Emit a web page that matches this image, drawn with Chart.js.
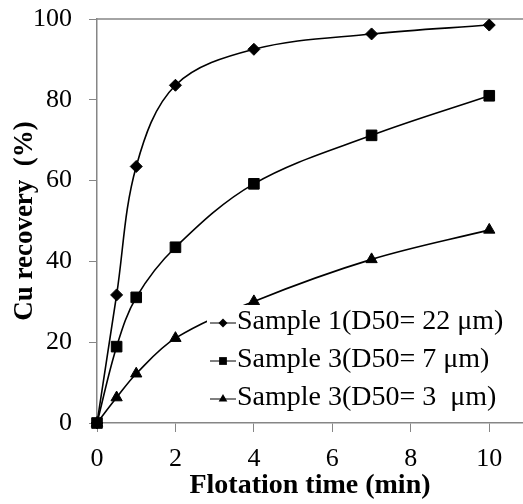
<!DOCTYPE html>
<html>
<head>
<meta charset="utf-8">
<script src="https://cdn.jsdelivr.net/npm/chart.js@4.4.1/dist/chart.umd.min.js"></script>
<style>
  html, body { margin: 0; padding: 0; background: #fff; overflow: hidden; }
  canvas { display: block; }
</style>
</head>
<body>
<canvas id="recoveryChart" width="523" height="504"></canvas>
<script>
// Flotation kinetics: cumulative Cu recovery vs. time
const flotationTime = [0, 0.5, 1, 2, 4, 7, 10];
const recoverySample1 = [0, 31.7, 63.5, 83.6, 92.5, 96.3, 98.5];
const recoverySample3D7 = [0, 18.9, 31.1, 43.5, 59.2, 71.2, 81.0];
const recoverySample3D3 = [0, 6.3, 12.2, 21.0, 30.1, 40.5, 47.8];
const seriesNames = ['Sample 1(D50= 22 \u03bcm)', 'Sample 3(D50= 7 \u03bcm)', 'Sample 3(D50= 3  \u03bcm)'];
const seriesMarkers = ['rectRot', 'rect', 'triangle'];
const xTickValues = [0, 2, 4, 6, 8, 10];
const yTickValues = [0, 20, 40, 60, 80, 100];

const SERIF = '"Liberation Serif", "Times New Roman", serif';
const AXIS_GRAY = '#868686';

const seriesValues = [recoverySample1, recoverySample3D7, recoverySample3D3];
const markerRadius = { rectRot: 6, rect: 7.5, triangle: 6.5 };
const legendMarkerRadius = { rectRot: 4.5, rect: 5.5, triangle: 5 };

const datasets = seriesValues.map((vals, i) => ({
  label: seriesNames[i],
  data: flotationTime.map((t, k) => ({ x: t, y: vals[k] })),
  showLine: true,
  borderColor: '#000',
  backgroundColor: '#000',
  borderWidth: 1.6,
  tension: 0.35,
  pointStyle: seriesMarkers[i],
  pointRadius: markerRadius[seriesMarkers[i]],
  pointBorderWidth: 1,
  pointBorderColor: '#000',
  pointBackgroundColor: '#000',
  clip: false
}));

// simple marker painter for the legend keys
function paintMarker(ctx, style, r, x, y) {
  ctx.beginPath();
  if (style === 'rectRot') {
    ctx.moveTo(x, y - r); ctx.lineTo(x + r, y); ctx.lineTo(x, y + r); ctx.lineTo(x - r, y);
  } else if (style === 'rect') {
    const s = Math.SQRT1_2 * r;
    ctx.rect(x - s, y - s, 2 * s, 2 * s);
  } else {
    ctx.moveTo(x, y - r);
    ctx.lineTo(x + r * Math.sin(Math.PI / 3), y + r / 2);
    ctx.lineTo(x - r * Math.sin(Math.PI / 3), y + r / 2);
  }
  ctx.closePath();
  ctx.fill();
}

const frameAndLegend = {
  id: 'frameAndLegend',
  beforeDatasetsDraw(chart) {
    const { ctx, chartArea: a } = chart;
    ctx.save();
    ctx.strokeStyle = AXIS_GRAY;
    ctx.lineWidth = 1.5;
    ctx.beginPath();
    ctx.moveTo(a.left, a.top);
    ctx.lineTo(a.right, a.top);
    ctx.stroke();
    ctx.restore();
  },
  afterDatasetsDraw(chart) {
    const { ctx, chartArea: a } = chart;
    const boxLeft = a.left + 110;
    const boxTop = a.top + 286;
    ctx.save();
    ctx.fillStyle = '#fff';
    ctx.fillRect(boxLeft, boxTop, a.right - boxLeft, a.bottom - 6 - boxTop);
    ctx.font = '28px ' + SERIF;
    ctx.textBaseline = 'middle';
    ctx.textAlign = 'left';
    chart.data.datasets.forEach((ds, i) => {
      const y = boxTop + 18 + i * 38;
      const x0 = boxLeft + 3;
      ctx.strokeStyle = '#000';
      ctx.lineWidth = 1;
      ctx.beginPath();
      ctx.moveTo(x0, y);
      ctx.lineTo(x0 + 26, y);
      ctx.stroke();
      ctx.fillStyle = '#000';
      paintMarker(ctx, ds.pointStyle, legendMarkerRadius[ds.pointStyle], x0 + 13, y);
      ctx.fillText(ds.label, x0 + 27, y - 1);
    });
    ctx.restore();
  }
};

new Chart(document.getElementById('recoveryChart'), {
  type: 'scatter',
  data: { datasets },
  options: {
    responsive: false,
    animation: false,
    layout: { autoPadding: false, padding: { left: 0, right: 0, top: 19, bottom: 0 } },
    plugins: { legend: { display: false }, tooltip: { enabled: false } },
    scales: {
      x: {
        type: 'linear',
        min: 0,
        max: 10.86,
        afterBuildTicks: s => { s.ticks = xTickValues.map(v => ({ value: v })); },
        afterFit: s => { s.height = 81; s.paddingLeft = 0; s.paddingRight = 0; },
        grid: { drawOnChartArea: false, drawTicks: true, tickLength: 9, color: AXIS_GRAY, lineWidth: 1 },
        border: { color: AXIS_GRAY, width: 1.5 },
        ticks: { color: '#000', font: { family: SERIF, size: 26 }, padding: 12, maxRotation: 0 },
        title: {
          display: true,
          text: 'Flotation time (min)',
          color: '#000',
          font: { family: SERIF, size: 28, weight: 'bold' },
          padding: { top: 0, bottom: 1 }
        }
      },
      y: {
        type: 'linear',
        min: 0,
        max: 100,
        afterBuildTicks: s => { s.ticks = yTickValues.map(v => ({ value: v })); },
        afterFit: s => { s.width = 97; s.paddingTop = 0; s.paddingBottom = 0; },
        grid: { drawOnChartArea: false, drawTicks: true, tickLength: 8, color: AXIS_GRAY, lineWidth: 1 },
        border: { color: AXIS_GRAY, width: 1.5 },
        ticks: { color: '#000', font: { family: SERIF, size: 26 }, padding: 17 },
        title: {
          display: true,
          text: 'Cu recovery  (%)',
          color: '#000',
          font: { family: SERIF, size: 27, weight: 'bold' },
          padding: { top: 9, bottom: 0 }
        }
      }
    }
  },
  plugins: [frameAndLegend]
});
</script>
</body>
</html>
